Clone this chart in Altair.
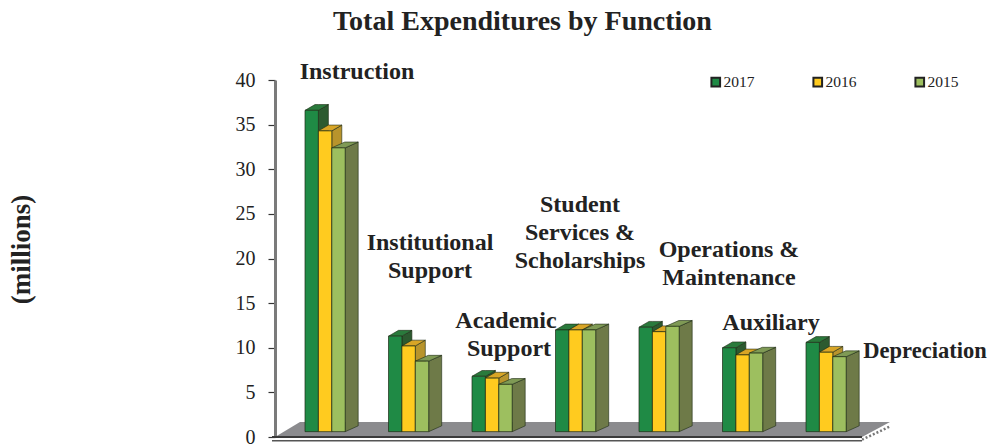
import altair as alt
import pandas as pd

categories = ["Instruction", "Institutional Support", "Academic Support",
              "Student Services & Scholarships", "Operations & Maintenance",
              "Auxiliary", "Depreciation"]
series = ["2017", "2016", "2015"]
v2017 = [36.0, 10.7, 6.2, 11.4, 11.7, 9.4, 10.0]
v2016 = [33.7, 9.6, 6.0, 11.4, 11.2, 8.6, 8.9]
v2015 = [31.8, 7.9, 5.3, 11.4, 11.8, 8.8, 8.4]
values = {"2017": v2017, "2016": v2016, "2015": v2015}
y_ticks = [0, 5, 10, 15, 20, 25, 30, 35, 40]

front_colors = ["#1f8a45", "#ffcb1f", "#9dbf5f"]
side_colors = {"2017": "#2c5a30", "2016": "#b8942c", "2015": "#6e7a48"}
top_colors = {"2017": "#2a7a3c", "2016": "#d8a526", "2015": "#7f9a55"}

label_lines = ["Instruction", "Institutional", "Support", "Academic", "Support",
               "Student", "Services &", "Scholarships", "Operations &",
               "Maintenance", "Auxiliary"]
label_cx = [357, 430, 430, 506, 509, 580, 580, 580, 729, 729, 771]
label_cy = [72, 243, 271, 321, 349, 205, 233, 261, 250, 278, 323]
small_label = ["Depreciation"]
small_cx = [925]
small_cy = [351]

# geometry of the pseudo-3D look, in axis units
UNIT_PX = 83.5
VAL_PX = 357 / 40
BAR_W = 13.4 / UNIT_PX
BASE = 0.6
DEPTH_X = {"2017": 10 / UNIT_PX, "2016": 10 / UNIT_PX, "2015": 13 / UNIT_PX}
DEPTH_Y = 0.65

x_scale = alt.Scale(domain=[-30 / UNIT_PX, -30 / UNIT_PX + 712 / UNIT_PX], nice=False, zero=False)
y_scale = alt.Scale(domain=[0, 40], nice=False)
y_axis = alt.Axis(values=y_ticks, grid=False,
                  domainColor="#7a7a7a", domainWidth=3, tickColor="#333333",
                  tickSize=7, tickWidth=1.2, labelFontSize=20, labelColor="#222222",
                  labelFont="Liberation Serif", labelPadding=13,
                  title="(millions)", titleFont="Liberation Serif", titleFontSize=27,
                  titleFontWeight="bold", titleColor="#222222",
                  titleX=-240, titleY=169)


def edge(points, x):
    for (x0, y0), (x1, y1) in zip(points, points[1:]):
        if x0 <= x <= x1:
            return y0 if x1 == x0 else y0 + (y1 - y0) * (x - x0) / (x1 - x0)
    return points[-1][1]


def poly(idn, lower, upper):
    xs = sorted({p[0] for p in lower} | {p[0] for p in upper})
    return [{"id": idn, "x": x, "lo": edge(lower, x), "up": edge(upper, x)} for x in xs]


def area(rows, color):
    return alt.Chart(pd.DataFrame(rows)).mark_area(
        color=color, stroke="#1d2a14", strokeWidth=0.6, opacity=1, line=False
    ).encode(
        x=alt.X("x:Q", scale=x_scale, axis=None),
        y=alt.Y("lo:Q", scale=y_scale, stack=None, axis=y_axis),
        y2="up:Q",
        detail="id:N",
    )


# floor
fx0, fx1, fx2, fx3 = -30 / UNIT_PX, -5 / UNIT_PX, 557 / UNIT_PX, 585 / UNIT_PX
floor_h = 1.68
floor_rows = poly("floor", [(fx0, 0), (fx2, 0), (fx3, floor_h)], [(fx0, 0), (fx1, floor_h), (fx3, floor_h)])
floor = alt.Chart(pd.DataFrame(floor_rows)).mark_area(color="#8b8b8e", opacity=1).encode(
    x=alt.X("x:Q", scale=x_scale, axis=None),
    y=alt.Y("lo:Q", stack=None, scale=y_scale, axis=y_axis),
    y2="up:Q",
    detail="id:N",
)

rule_df = pd.DataFrame([
    {"x": -33 / UNIT_PX, "x2": fx2, "y": 0.0},
])
rule1 = alt.Chart(rule_df).mark_rule(color="#3a3a3a", strokeWidth=2).encode(
    x=alt.X("x:Q", scale=x_scale, axis=None), x2="x2:Q", y=alt.Y("y:Q", scale=y_scale, axis=y_axis))
rule2 = alt.Chart(rule_df.assign(y=-0.42)).mark_rule(color="#555555", strokeWidth=1.3).encode(
    x=alt.X("x:Q", scale=x_scale, axis=None), x2="x2:Q", y=alt.Y("y:Q", scale=y_scale, axis=y_axis))
edge_df = pd.DataFrame({"x": [fx2, fx3], "y": [-0.3, floor_h - 0.5]})
edge_line = alt.Chart(edge_df).mark_line(color="#777777", strokeWidth=2.5, strokeDash=[2, 2]).encode(
    x=alt.X("x:Q", scale=x_scale, axis=None), y=alt.Y("y:Q", scale=y_scale, axis=y_axis))

layers = [floor, rule1, rule2, edge_line]

for si, s in enumerate(series):
    dx = DEPTH_X[s]
    side_rows, top_rows, front_rows = [], [], []
    for gi, val in enumerate(values[s]):
        x0 = gi + si * BAR_W
        x1 = x0 + BAR_W
        top = BASE + val
        idn = f"{s}-{gi}"
        side_rows += poly(idn, [(x1, BASE), (x1 + dx, BASE + DEPTH_Y)], [(x1, top), (x1 + dx, top + DEPTH_Y)])
        top_rows += poly(idn, [(x0, top), (x1, top), (x1 + dx, top + DEPTH_Y)],
                         [(x0, top), (x0 + dx, top + DEPTH_Y), (x1 + dx, top + DEPTH_Y)])
        front_rows.append({"x": x0, "x2": x1, "y": BASE, "y2": top, "year": s})
    layers.append(area(side_rows, side_colors[s]))
    layers.append(area(top_rows, top_colors[s]))
    layers.append(
        alt.Chart(pd.DataFrame(front_rows)).mark_rect(stroke="#1d2a14", strokeWidth=0.7).encode(
            x=alt.X("x:Q", scale=x_scale, axis=None), x2="x2:Q",
            y=alt.Y("y:Q", scale=y_scale, axis=y_axis), y2="y2:Q",
            color=alt.Color("year:N",
                            scale=alt.Scale(domain=series, range=front_colors),
                            legend=alt.Legend(title=None, orient="none", legendX=433, legendY=-6,
                                              columns=3, direction="horizontal", columnPadding=54,
                                              symbolType="square", symbolSize=75,
                                              symbolStrokeColor="#222222", symbolStrokeWidth=2,
                                              labelOffset=0, labelFont="Liberation Serif",
                                              labelFontSize=15.5, labelColor="#222222",
                                              symbolOpacity=1)),
        )
    )


def text_layer(lines, cx, cy, size):
    df = pd.DataFrame({"t": lines,
                       "gx": [(c - 305) / UNIT_PX for c in cx],
                       "vy": [(437 - c) / VAL_PX for c in cy]})
    return alt.Chart(df).mark_text(font="Liberation Serif", fontWeight="bold", fontSize=size,
                                   color="#222222", baseline="middle", align="center").encode(
        x=alt.X("gx:Q", scale=x_scale, axis=None),
        y=alt.Y("vy:Q", scale=y_scale, axis=y_axis), text="t:N")


chart = alt.layer(*layers, text_layer(label_lines, label_cx, label_cy, 24),
                  text_layer(small_label, small_cx, small_cy, 22.5)).properties(
    width=712, height=357,
    padding={"left": 267, "top": 72, "right": 0, "bottom": 8},
    autosize=alt.AutoSizeParams(type="none"),
    title=alt.TitleParams("Total Expenditures by Function", font="Liberation Serif", fontSize=28,
                          fontWeight="bold", color="#222222", anchor="start", frame="group",
                          dx=58, offset=24),
).configure_view(stroke=None)

chart.save("out.html", embed_options={"renderer": "svg", "actions": False})
